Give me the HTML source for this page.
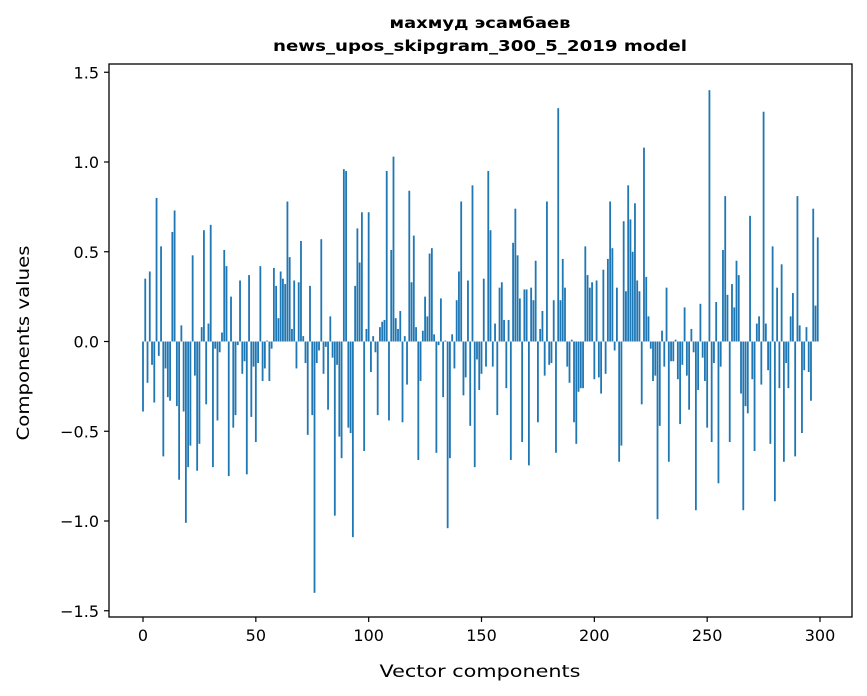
<!DOCTYPE html>
<html><head><meta charset="utf-8"><style>
html,body{margin:0;padding:0;background:#fff;}
svg{display:block;font-family:"DejaVu Sans","Liberation Sans",sans-serif;}
</style></head><body>
<svg id="chart" width="867" height="696" viewBox="0 0 867 696" xmlns="http://www.w3.org/2000/svg">
<text x="480" y="28" text-anchor="middle" font-size="15" font-weight="bold" textLength="181" lengthAdjust="spacingAndGlyphs">махмуд эсамбаев</text>
<text x="480" y="51" text-anchor="middle" font-size="15" font-weight="bold" textLength="414" lengthAdjust="spacingAndGlyphs">news_upos_skipgram_300_5_2019 model</text>
<g id="bars"></g>
<g id="axes"></g>
<text x="480" y="677" text-anchor="middle" font-size="17" textLength="201" lengthAdjust="spacingAndGlyphs">Vector components</text>
<text transform="translate(29,343) rotate(-90)" text-anchor="middle" font-size="17" textLength="195" lengthAdjust="spacingAndGlyphs">Components values</text>
</svg>
<script>
const categories = Array.from({length:300},(_,i)=>i);
const values = [
-0.39,0.35,-0.23,0.39,-0.13,-0.34,0.80,-0.08,0.53,-0.64,
-0.15,-0.31,-0.33,0.61,0.73,-0.36,-0.77,0.09,-0.39,-1.01,
-0.70,-0.58,0.48,-0.19,-0.72,-0.57,0.08,0.62,-0.35,0.10,
0.65,-0.70,-0.04,-0.44,-0.06,0.05,0.51,0.42,-0.75,0.25,
-0.48,-0.41,-0.02,0.34,-0.18,-0.11,-0.74,0.37,-0.42,-0.14,
-0.56,-0.12,0.42,-0.22,-0.15,0.005,-0.22,-0.04,0.41,0.31,
0.13,0.39,0.35,0.32,0.78,0.47,0.07,0.34,-0.15,0.33,
0.56,0.03,-0.12,-0.52,0.31,-0.41,-1.40,-0.12,-0.05,0.57,
-0.18,-0.03,-0.38,0.14,-0.09,-0.97,-0.13,-0.53,-0.65,0.96,
0.95,-0.48,-0.51,-1.09,0.31,0.63,0.44,0.72,-0.61,0.07,
0.72,-0.17,0.03,-0.06,-0.41,0.08,0.11,0.12,0.95,-0.44,
0.51,1.03,0.13,0.07,0.17,-0.45,0.03,-0.24,0.84,0.33,
0.59,0.08,-0.66,-0.22,0.06,0.25,0.14,0.49,0.52,0.04,
-0.62,-0.02,0.24,-0.31,0.005,-1.04,-0.65,0.04,-0.15,0.23,
0.39,0.78,-0.30,-0.20,0.34,-0.47,0.87,-0.70,-0.10,-0.27,
-0.18,0.35,-0.14,0.95,0.62,-0.14,0.10,-0.41,0.30,0.33,
0.12,-0.26,0.12,-0.66,0.55,0.74,0.48,0.24,-0.56,0.29,
0.29,-0.69,0.30,0.23,0.45,-0.45,0.07,0.17,-0.19,0.78,
-0.13,-0.12,0.23,-0.62,1.30,0.23,0.46,0.30,-0.14,-0.23,
0.01,-0.45,-0.57,-0.28,-0.26,-0.26,0.53,0.37,0.30,0.33,
-0.21,0.34,-0.20,-0.29,0.40,-0.18,0.46,0.78,0.52,-0.05,
0.30,-0.67,-0.58,0.67,0.28,0.87,0.68,0.50,0.77,0.34,
0.28,-0.35,1.08,0.36,0.14,-0.04,-0.22,-0.19,-0.99,-0.47,
0.06,-0.14,0.30,-0.67,-0.11,-0.11,0.01,-0.21,-0.46,-0.13,
0.19,-0.19,-0.38,0.07,-0.06,-0.94,-0.27,0.21,-0.09,-0.22,
-0.48,1.40,-0.56,-0.12,0.22,-0.79,-0.14,0.51,0.81,0.26,
-0.56,0.32,0.19,0.45,0.37,-0.29,-0.94,-0.36,-0.40,0.70,
-0.21,-0.61,0.10,0.14,-0.24,1.28,0.10,-0.16,-0.57,0.53,
-0.89,0.30,-0.26,0.43,-0.67,-0.12,-0.26,0.14,0.27,-0.64,
0.81,0.09,-0.51,-0.16,0.08,-0.17,-0.33,0.74,0.20,0.58
];
const xTicks = [0,50,100,150,200,250,300];
const yTicks = [-1.5,-1.0,-0.5,0.0,0.5,1.0,1.5];
const yTickLabels = ["\u22121.5","\u22121.0","\u22120.5","0.0","0.5","1.0","1.5"];

const NS="http://www.w3.org/2000/svg";
const L=109,R=852,T=64,B=617;
function xs(v){return 143+v*(677/300);}
function ys(v){return 341.5-v*179.5;}
const bw=0.8*(677/300);
const bars=document.getElementById('bars');
categories.forEach((c,i)=>{
  const v=values[i]; if(v===undefined) return;
  const r=document.createElementNS(NS,'rect');
  const y0=ys(Math.max(v,0)), y1=ys(Math.min(v,0));
  r.setAttribute('x',xs(c)-bw/2);
  r.setAttribute('y',y0);
  r.setAttribute('width',bw);
  r.setAttribute('height',Math.max(y1-y0,0.01));
  r.setAttribute('fill','#1f77b4');
  
  
  bars.appendChild(r);
});
const axes=document.getElementById('axes');
const frame=document.createElementNS(NS,'rect');
frame.setAttribute('x',L);frame.setAttribute('y',T);frame.setAttribute('width',R-L);frame.setAttribute('height',B-T);
frame.setAttribute('fill','none');frame.setAttribute('stroke','#000');frame.setAttribute('stroke-width','1.3');


axes.appendChild(frame);
xTicks.forEach(t=>{
  const x=xs(t);
  const ln=document.createElementNS(NS,'line');
  ln.setAttribute('x1',x);ln.setAttribute('x2',x);ln.setAttribute('y1',B);ln.setAttribute('y2',B+5);ln.setAttribute('stroke','#000');ln.setAttribute('stroke-width','1.2');
  
  
  axes.appendChild(ln);
  const tx=document.createElementNS(NS,'text');
  tx.setAttribute('x',x);tx.setAttribute('y',B+24);tx.setAttribute('text-anchor','middle');tx.setAttribute('font-size','16');
  tx.textContent=String(t);
  
  
  axes.appendChild(tx);
});
yTicks.forEach((t,i)=>{
  const y=ys(t);
  const ln=document.createElementNS(NS,'line');
  ln.setAttribute('x1',L-5);ln.setAttribute('x2',L);ln.setAttribute('y1',y);ln.setAttribute('y2',y);ln.setAttribute('stroke','#000');ln.setAttribute('stroke-width','1.2');
  
  
  axes.appendChild(ln);
  const tx=document.createElementNS(NS,'text');
  tx.setAttribute('x',L-10);tx.setAttribute('y',y+6);tx.setAttribute('text-anchor','end');tx.setAttribute('font-size','16');
  tx.textContent=yTickLabels[i];
  
  
  axes.appendChild(tx);
});
</script>
</body></html>
